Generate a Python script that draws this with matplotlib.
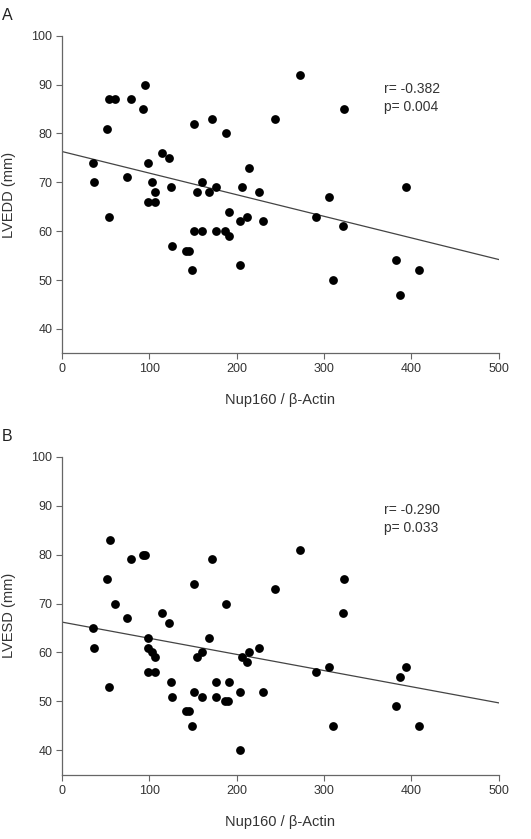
import matplotlib
matplotlib.use("Agg")
import matplotlib.pyplot as plt
import numpy as np

plt.rcParams['font.family'] = ['Liberation Sans', 'DejaVu Sans']

# Panel A: LVEDD vs Nup160/beta-Actin
x_a = [36, 37, 51.5, 54, 61, 54, 79, 95, 93, 98, 74, 103, 99, 106.5, 107, 115, 122.5,
       124.5, 126, 142.5, 145, 148.5, 151, 151.5, 155, 160, 160, 168, 172, 176, 176,
       188, 187, 191, 191.5, 204, 206, 204, 212, 214.5, 226, 230, 244, 272.5, 290.5,
       305.5, 310, 322, 323, 382.5, 387.5, 393.5, 409]
y_a = [74, 70, 81, 87, 87, 63, 87, 90, 85, 74, 71, 70, 66, 66, 68, 76, 75,
       69, 57, 56, 56, 52, 82, 60, 68, 70, 60, 68, 83, 69, 60,
       80, 60, 64, 59, 62, 69, 53, 63, 73, 68, 62, 83, 92, 63,
       67, 50, 61, 85, 54, 47, 69, 52]

# Panel B: LVESD vs Nup160/beta-Actin
x_b = [36, 37, 51.5, 54.5, 54, 61, 79, 74, 93, 95, 98, 99, 103, 99, 106.5, 107,
       115, 122.5, 124.5, 126, 142.5, 145, 148.5, 151, 151.5, 155, 160, 160, 168,
       172, 176, 176, 188, 187, 190, 191.5, 204, 206, 204, 212, 214.5, 226, 230,
       244, 272.5, 290.5, 305.5, 310, 322, 323, 382.5, 387.5, 393.5, 409]
y_b = [65, 61, 75, 83, 53, 70, 79, 67, 80, 80, 63, 61, 60, 56, 56, 59,
       68, 66, 54, 51, 48, 48, 45, 74, 52, 59, 60, 51, 63,
       79, 54, 51, 70, 50, 50, 54, 52, 59, 40, 58, 60, 61, 52,
       73, 81, 56, 57, 45, 68, 75, 49, 55, 57, 45]

# Regression lines (value at x=0, value at x=500)
line_a = [76.3, 54.2]
line_b = [66.2, 49.7]

stats_a = ["r= -0.382", "p= 0.004"]
stats_b = ["r= -0.290", "p= 0.033"]

xticks = [0, 100, 200, 300, 400, 500]
yticks = [40, 50, 60, 70, 80, 90, 100]

fig = plt.figure(figsize=(5.31, 8.39), dpi=100)

panels = [
    ("A", [0.1168, 0.5789, 0.8224, 0.3785], x_a, y_a, line_a, stats_a, "LVEDD (mm)"),
    ("B", [0.1168, 0.0765, 0.8224, 0.3792], x_b, y_b, line_b, stats_b, "LVESD (mm)"),
]

tc = '#333333'
for letter, rect, xs, ys, ln, st, ylab in panels:
    ax = fig.add_axes(rect)
    ax.scatter(xs, ys, s=40, color='black', zorder=3, linewidths=0)
    ax.plot([0, 500], ln, color='#444444', lw=0.9, zorder=2)
    ax.set_xlim(0, 500)
    ax.set_ylim(35, 100)
    ax.set_xticks(xticks)
    ax.set_yticks(yticks)
    for s in ['top', 'right']:
        ax.spines[s].set_visible(False)
    for s in ['left', 'bottom']:
        ax.spines[s].set_color('#666666')
        ax.spines[s].set_linewidth(0.9)
    ax.tick_params(axis='both', direction='out', length=4, width=0.8,
                   color='#666666', labelsize=9, labelcolor=tc, pad=3)
    ax.set_xlabel("Nup160 / β-Actin", fontsize=10.5, color=tc, labelpad=13)
    ax.set_ylabel(ylab, fontsize=10.5, color=tc, labelpad=11)
    ax.text(369, 89.2, st[0], fontsize=10, color=tc, va='center', ha='left')
    ax.text(369, 85.4, st[1], fontsize=10, color=tc, va='center', ha='left')
    bb = ax.get_position()
    fig.text(0.004, bb.y1 + 0.024, letter, fontsize=11.5, color='#222222', va='center', ha='left')

fig.savefig("out.png", dpi=100)
